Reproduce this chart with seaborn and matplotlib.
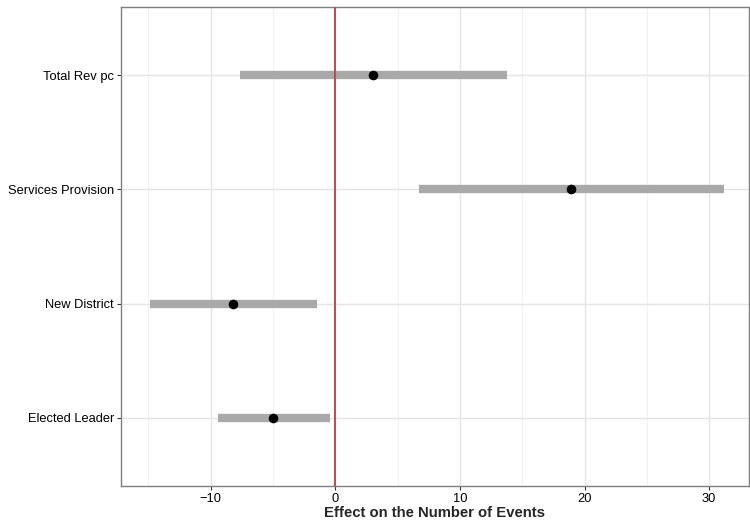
import numpy as np
import pandas as pd
import seaborn as sns
import matplotlib.pyplot as plt

# coefficient estimates with 95% intervals, bottom to top
terms = ["Elected Leader", "New District", "Services Provision", "Total Rev pc"]
estimate = [-5.0, -8.2, 18.9, 3.0]
lower = [-9.4, -14.85, 6.7, -7.65]
upper = [-0.45, -1.5, 31.2, 13.8]

df = pd.DataFrame({"term": terms, "estimate": estimate, "lower": lower, "upper": upper})

sns.set_style("white")
plt.rcParams["font.family"] = ["Liberation Sans", "DejaVu Sans"]

fig = plt.figure(figsize=(7.5, 5.2), dpi=100)
ax = fig.add_axes([121 / 750, 1 - 486 / 520, 628 / 750, 479 / 520])

# grid like ggplot theme_bw
for v in [-15, -5, 5, 15, 25]:
    ax.axvline(v, color="#f2f2f2", lw=0.8, zorder=0)
for v in [-10, 10, 20, 30]:
    ax.axvline(v, color="#e5e5e5", lw=1.0, zorder=0)

ax.hlines(df["term"], df["lower"], df["upper"], color="#a9a9a9", lw=6, zorder=2)
ax.axvline(0, color="#b05456", lw=1.5, zorder=3)
sns.scatterplot(data=df, x="estimate", y="term", color="black", s=48,
                edgecolor="black", linewidth=0, zorder=4, ax=ax)
for i in range(len(terms)):
    ax.axhline(i, color="#e5e5e5", lw=1.0, zorder=0)

ax.set_xlim(-17.2, 33.2)
ax.set_ylim(-0.6, len(terms) - 0.4)
ax.set_xticks([-10, 0, 10, 20, 30])
ax.set_xticklabels(["\u221210", "0", "10", "20", "30"])

ax.set_xlabel("Effect on the Number of Events", fontsize=10.7, fontweight="bold",
              labelpad=1)
ax.set_ylabel("")
ax.tick_params(axis="both", labelsize=9.3, colors="#333333", labelcolor="black",
               length=3, width=0.8, pad=2, left=True, bottom=True)
for sp in ax.spines.values():
    sp.set_color("#7f7f7f")
    sp.set_linewidth(1.0)

fig.savefig("out.png", dpi=100)
